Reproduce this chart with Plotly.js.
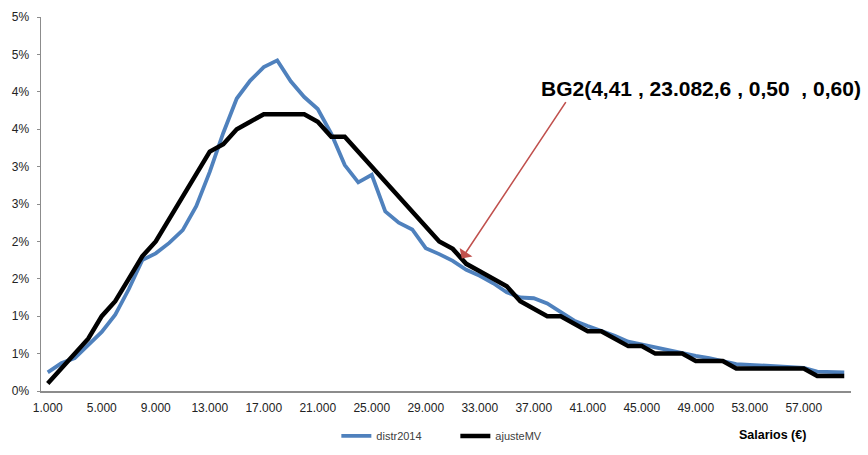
<!DOCTYPE html>
<html>
<head>
<meta charset="utf-8">
<script src="https://cdn.plot.ly/plotly-3.0.1.min.js"></script>
<style>
  html, body { margin: 0; padding: 0; background: #fff; }
  #chart { width: 868px; height: 455px; }
</style>
</head>
<body>
<div id="chart"></div>
<script>
const categories = ["1.000","2.000","3.000","4.000","5.000","6.000","7.000","8.000","9.000","10.000",
  "11.000","12.000","13.000","14.000","15.000","16.000","17.000","18.000","19.000","20.000",
  "21.000","22.000","23.000","24.000","25.000","26.000","27.000","28.000","29.000","30.000",
  "31.000","32.000","33.000","34.000","35.000","36.000","37.000","38.000","39.000","40.000",
  "41.000","42.000","43.000","44.000","45.000","46.000","47.000","48.000","49.000","50.000",
  "51.000","52.000","53.000","54.000","55.000","56.000","57.000","58.000","59.000","60.000"];

const distr2014 = [0.25,0.37,0.44,0.62,0.79,1.02,1.36,1.75,1.84,1.98,
  2.15,2.47,2.93,3.45,3.91,4.15,4.33,4.42,4.14,3.93,
  3.77,3.44,3.02,2.79,2.89,2.40,2.25,2.16,1.91,1.83,
  1.74,1.62,1.54,1.44,1.32,1.25,1.24,1.17,1.05,0.94,
  0.87,0.81,0.74,0.66,0.62,0.58,0.55,0.51,0.47,0.44,
  0.40,0.36,0.35,0.34,0.32,0.31,0.31,0.26,0.25,0.25];

const ajusteMV = [0.1,0.3,0.5,0.7,1.0,1.2,1.5,1.8,2.0,2.3,
  2.6,2.9,3.2,3.3,3.5,3.6,3.7,3.7,3.7,3.7,
  3.6,3.4,3.4,3.2,3.0,2.8,2.6,2.4,2.2,2.0,
  1.9,1.7,1.6,1.5,1.4,1.2,1.1,1.0,1.0,0.9,
  0.8,0.8,0.7,0.6,0.6,0.5,0.5,0.5,0.4,0.4,
  0.4,0.3,0.3,0.3,0.3,0.3,0.3,0.2,0.2,0.2];

const yTickVals = [0,0.5,1,1.5,2,2.5,3,3.5,4,4.5,5];
const yTickText = ["0%","1%","1%","2%","2%","3%","3%","4%","4%","5%","5%"];

const xTickVals = categories.filter((c, i) => i % 4 === 0);

const annotationText = "BG2(4,41 , 23.082,6 , 0,50 \u00a0, 0,60)";
const axisTitle = "Salarios (€)";

const traces = [
  {
    type: 'scatter', mode: 'lines', name: 'distr2014',
    x: categories, y: distr2014,
    line: { color: '#4F81BD', width: 3.8 },
    hoverinfo: 'skip'
  },
  {
    type: 'scatter', mode: 'lines', name: 'ajusteMV',
    x: categories, y: ajusteMV,
    line: { color: '#000000', width: 4.5 },
    hoverinfo: 'skip'
  }
];

const layout = {
  width: 868, height: 455,
  margin: { l: 41, r: 17, t: 17, b: 64, autoexpand: false },
  paper_bgcolor: '#ffffff', plot_bgcolor: '#ffffff',
  font: { family: 'Liberation Sans, Arial, sans-serif', size: 12, color: '#222' },
  showlegend: true,
  legend: {
    orientation: 'h', xref: 'container', yref: 'container',
    x: 0.3875, y: 0.042, xanchor: 'left', yanchor: 'middle',
    font: { size: 11, color: '#404040' }, bgcolor: 'rgba(0,0,0,0)',
    entrywidth: 74, entrywidthmode: 'pixels'
  },
  xaxis: {
    type: 'category', range: [-0.5, 59.5], automargin: false,
    tickmode: 'array', tickvals: xTickVals, ticktext: xTickVals,
    showline: true, linecolor: '#8c8c8c', linewidth: 1.5,
    ticks: 'outside', ticklen: 5, tickcolor: 'rgba(0,0,0,0)',
    showgrid: false, zeroline: false,
    tickfont: { size: 12, color: '#222' }
  },
  yaxis: {
    range: [0, 5], automargin: false,
    tickmode: 'array', tickvals: yTickVals, ticktext: yTickText,
    showline: true, linecolor: '#8c8c8c', linewidth: 1.5,
    ticks: 'outside', ticklen: 3, tickcolor: '#8c8c8c',
    ticklabelstandoff: 5,
    showgrid: false, zeroline: false,
    tickfont: { size: 12, color: '#222' }
  },
  annotations: [
    {
      xref: 'paper', yref: 'paper', x: 0.815, y: 0.81,
      xanchor: 'center', yanchor: 'middle',
      text: annotationText, showarrow: false,
      font: { size: 21, color: '#000', family: 'Liberation Sans, Arial, sans-serif', weight: 'bold' }
    },
    {
      xref: 'x', yref: 'y', x: 30.67, y: 1.77,
      text: '', showarrow: true, axref: 'pixel', ayref: 'pixel',
      ax: 105, ay: -158,
      arrowcolor: '#C0504D', arrowwidth: 1.6, arrowhead: 1, arrowsize: 1.6
    },
    {
      xref: 'paper', yref: 'paper', x: 0.9025, y: -0.1176,
      xanchor: 'center', yanchor: 'middle',
      text: '<b>' + axisTitle + '</b>', showarrow: false,
      font: { size: 12.5, color: '#000' }
    }
  ]
};

Plotly.newPlot('chart', traces, layout, { displayModeBar: false, staticPlot: true });
</script>
</body>
</html>
